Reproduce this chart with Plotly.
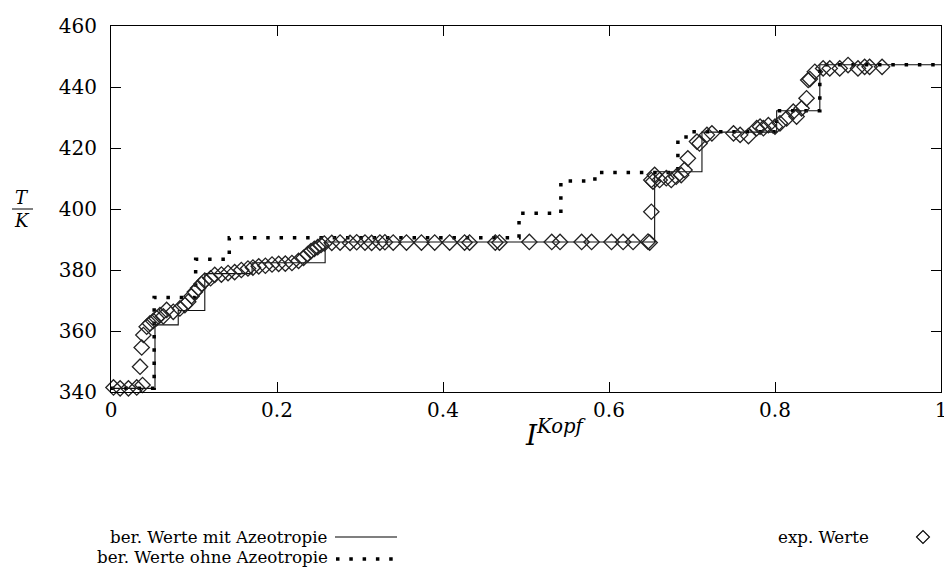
import plotly.graph_objects as go

# ---- data ----
# calculated values with azeotropy (step curve, 'hv')
mit_x = [0.0, 0.053, 0.081, 0.113, 0.170, 0.258, 0.655, 0.712, 0.802, 0.854, 1.0]
mit_T = [341.2, 362.0, 366.7, 378.8, 382.4, 389.2, 412.2, 425.2, 432.2, 447.3, 447.3]

# calculated values without azeotropy (step curve, 'hv')
ohne_x = [0.0, 0.052, 0.102, 0.1425, 0.4916, 0.542, 0.583, 0.683, 0.699, 0.802, 0.854, 1.0]
ohne_T = [341.2, 371.0, 383.5, 390.6, 398.6, 409.2, 412.0, 423.6, 425.3, 432.2, 447.3, 447.3]

# experimental values
exp_x = [0.003, 0.011, 0.021, 0.031, 0.038, 0.035, 0.037, 0.039,
         0.043, 0.047, 0.051, 0.055, 0.059, 0.063,
         0.067, 0.075, 0.083, 0.089, 0.093, 0.097, 0.101, 0.105, 0.109, 0.113, 0.120,
         0.125, 0.133, 0.141, 0.149, 0.157, 0.165,
         0.171, 0.178, 0.186, 0.194, 0.202, 0.210, 0.218, 0.226, 0.232, 0.237, 0.241,
         0.245, 0.249, 0.253, 0.257,
         0.266, 0.276, 0.288, 0.296, 0.306, 0.314, 0.324, 0.330, 0.340, 0.356, 0.374,
         0.390, 0.408, 0.426, 0.432, 0.463, 0.468, 0.504, 0.531, 0.541, 0.567, 0.579,
         0.603, 0.617, 0.629, 0.647, 0.649,
         0.651, 0.651, 0.655, 0.653, 0.661, 0.669, 0.675, 0.681, 0.687, 0.691, 0.695,
         0.706, 0.709, 0.718, 0.724,
         0.750, 0.758, 0.768, 0.778, 0.782, 0.786, 0.792, 0.800, 0.806, 0.814, 0.822,
         0.826, 0.832, 0.838, 0.840, 0.842, 0.848, 0.858, 0.866, 0.878, 0.888, 0.900,
         0.908, 0.914, 0.929]
exp_T = [341.5, 341.2, 341.2, 341.5, 342.3, 348.3, 354.6, 358.7,
         361.4, 362.5, 363.3, 364.2, 365.2, 364.8,
         366.9, 366.3, 367.4, 368.5, 369.6, 371.4, 372.8, 374.1, 375.4, 376.5, 377.3,
         378.4, 378.5, 379.0, 379.3, 380.0, 380.5,
         380.8, 381.2, 381.4, 381.8, 382.0, 382.1, 382.3, 383.0, 384.0, 385.2, 386.2,
         386.9, 387.5, 388.2, 388.7,
         388.9, 389.0, 388.9, 389.1, 389.0, 388.9, 389.0, 389.1, 389.0, 389.0, 389.0,
         389.0, 389.0, 389.0, 389.0, 389.0, 389.0, 389.2, 389.2, 389.2, 389.2, 389.2,
         389.2, 389.2, 389.2, 389.3, 389.0,
         399.1, 409.5, 411.2, 409.0, 409.5, 410.1, 409.5, 410.6, 411.1, 412.8, 416.6,
         422.1, 421.5, 424.3, 424.8,
         424.8, 424.3, 423.9, 426.5, 427.0, 426.5, 427.5, 427.0, 428.1, 429.7, 431.9,
         430.3, 433.0, 436.3, 442.3, 442.6, 445.0, 446.1, 446.1, 446.1, 447.2, 446.1,
         446.6, 446.6, 446.6]

x_ticks = [0, 0.2, 0.4, 0.6, 0.8, 1]
x_ticktext = ["0", "0.2", "0.4", "0.6", "0.8", "1"]
y_ticks = [340, 360, 380, 400, 420, 440, 460]

legend_mit = "ber. Werte mit Azeotropie"
legend_ohne = "ber. Werte ohne Azeotropie"
legend_exp = "exp. Werte"

FONT = "DejaVu Serif"

fig = go.Figure()
fig.add_trace(go.Scatter(x=mit_x, y=mit_T, mode="lines", line_shape="hv",
                         line=dict(color="#111", width=1.1), showlegend=False))
fig.add_trace(go.Scatter(x=ohne_x, y=ohne_T, mode="lines", line_shape="hv",
                         line=dict(color="black", width=3.5, dash="3.5px,9.8px"),
                         showlegend=False))
fig.add_trace(go.Scatter(x=exp_x, y=exp_T, mode="markers", cliponaxis=False,
                         marker=dict(symbol="diamond-open", size=11.8, color="#222",
                                     line=dict(width=1.3, color="#222")),
                         showlegend=False))

L, R, T, B = 111, 3, 26, 182
W, H = 944, 574
pw, ph = W - L - R, H - T - B


def px(xp):
    return (xp - L) / pw


def py(yp):
    return (H - B - yp) / ph


def note(x, y, text, size, xanchor="center", yanchor="middle"):
    return dict(x=px(x), y=py(y), xref="paper", yref="paper", text=text,
                xanchor=xanchor, yanchor=yanchor, showarrow=False, borderpad=0,
                font=dict(family=FONT, size=size, color="black"))


ann = [
    note(22, 209, "<i>T</i>", 18, yanchor="bottom"),
    note(22, 209, "<i>K</i>", 18, yanchor="top"),
    note(556, 433, "<i>I</i><sup><i>Kopf</i></sup>", 28),
    note(329, 537, legend_mit, 16.7, "right"),
    note(329, 557, legend_ohne, 16.7, "right"),
    note(870, 537, legend_exp, 16.7, "right"),
]

shapes = []
shapes.append(dict(type="line", xref="paper", yref="paper", x0=px(12), x1=px(33),
                   y0=py(209), y1=py(209), line=dict(color="black", width=1)))
shapes.append(dict(type="line", xref="paper", yref="paper", x0=px(335), x1=px(397),
                   y0=py(537), y1=py(537), line=dict(color="black", width=1.1)))
shapes.append(dict(type="line", xref="paper", yref="paper", x0=px(336), x1=px(399),
                   y0=py(559), y1=py(559),
                   line=dict(color="black", width=3.5, dash="3.5px,9.8px")))
cx, cy, r = 923, 537, 6.5
shapes.append(dict(type="path", xref="paper", yref="paper",
                   path=f"M {px(cx-r)} {py(cy)} L {px(cx)} {py(cy-r)} L {px(cx+r)} {py(cy)} L {px(cx)} {py(cy+r)} Z",
                   line=dict(color="black", width=1.1)))

fig.update_layout(
    width=W, height=H,
    margin=dict(l=L, r=R, t=T, b=B, autoexpand=False),
    paper_bgcolor="white", plot_bgcolor="white",
    font=dict(family=FONT, size=20, color="black"),
    annotations=ann, shapes=shapes,
    xaxis=dict(range=[0, 1.0000001], tickvals=x_ticks, ticktext=x_ticktext,
               showline=True, mirror="allticks", linecolor="black", linewidth=1,
               ticks="inside", ticklen=10, tickcolor="black", showgrid=False,
               zeroline=False, ticklabelstandoff=0, ticklabeloverflow="allow",
               automargin=False, tickfont=dict(family=FONT, size=20)),
    yaxis=dict(range=[340, 460], tickvals=y_ticks,
               showline=True, mirror="allticks", linecolor="black", linewidth=1,
               ticks="inside", ticklen=10, tickcolor="black", showgrid=False,
               zeroline=False, ticklabelstandoff=9, automargin=False,
               tickfont=dict(family=FONT, size=20)),
)

fig.write_html("out.html")
